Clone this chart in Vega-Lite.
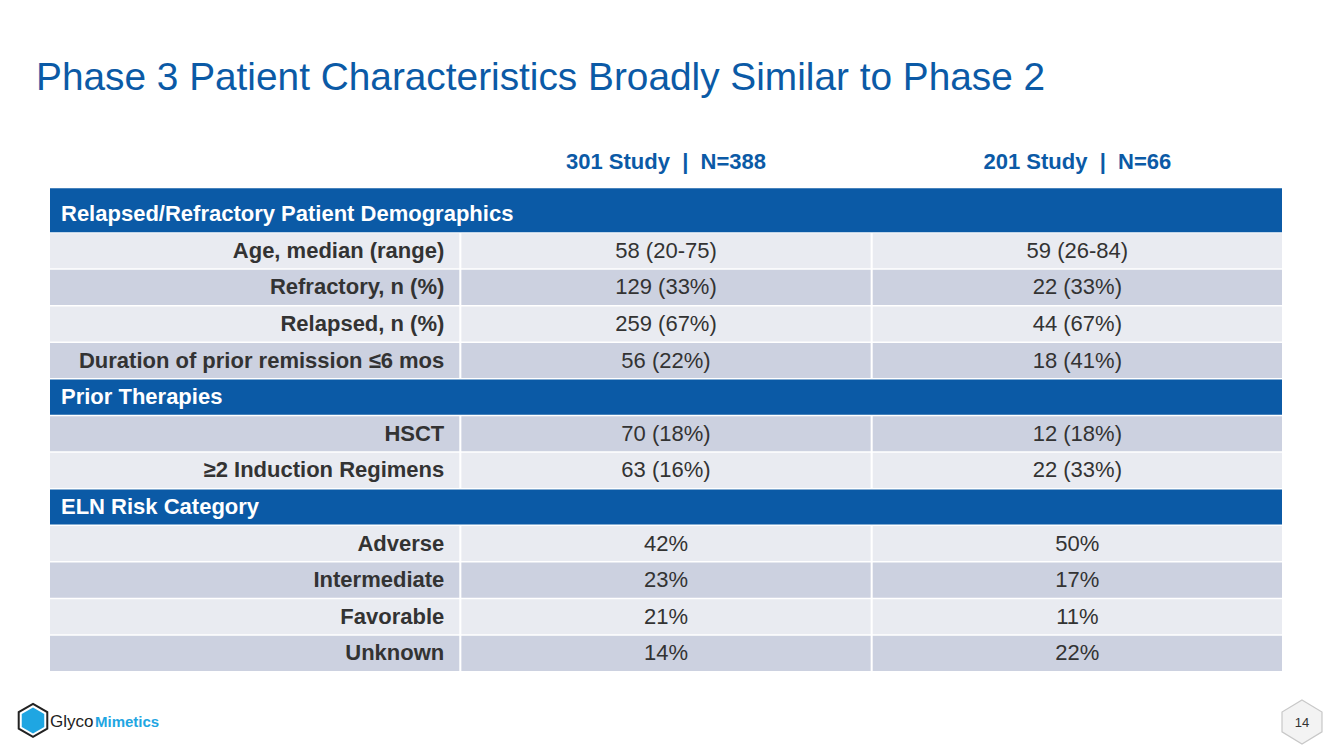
{
  "$schema": "https://vega.github.io/schema/vega-lite/v6.json",
  "width": 1232,
  "height": 547.5,
  "autosize": {"type": "none"},
  "padding": {"left": 50, "top": 160, "right": 51, "bottom": 41.5},
  "background": "white",
  "config": {"view": {"stroke": null}, "font": "Liberation Sans"},
  "title": {
    "text": "Phase 3 Patient Characteristics Broadly Similar to Phase 2",
    "anchor": "start",
    "frame": "group",
    "font": "Liberation Sans",
    "fontSize": 38.8,
    "fontWeight": "normal",
    "color": "#0B5AA6",
    "dx": -14,
    "offset": 53
  },
  "datasets": {
    "table": [
      {"row": 0, "kind": "colhdr", "label": "", "s301": "301 Study\u00a0\u00a0|\u00a0\u00a0N=388", "s201": "201 Study\u00a0\u00a0|\u00a0\u00a0N=66"},
      {"row": 1, "kind": "section", "label": "Relapsed/Refractory Patient Demographics"},
      {"row": 2, "kind": "item", "label": "Age, median (range)", "s301": "58 (20-75)", "s201": "59 (26-84)"},
      {"row": 3, "kind": "item", "label": "Refractory, n (%)", "s301": "129 (33%)", "s201": "22 (33%)"},
      {"row": 4, "kind": "item", "label": "Relapsed, n (%)", "s301": "259 (67%)", "s201": "44 (67%)"},
      {"row": 5, "kind": "item", "label": "Duration of prior remission ≤6 mos", "s301": "56 (22%)", "s201": "18 (41%)"},
      {"row": 6, "kind": "section", "label": "Prior Therapies"},
      {"row": 7, "kind": "item", "label": "HSCT", "s301": "70 (18%)", "s201": "12 (18%)"},
      {"row": 8, "kind": "item", "label": "≥2 Induction Regimens", "s301": "63 (16%)", "s201": "22 (33%)"},
      {"row": 9, "kind": "section", "label": "ELN Risk Category"},
      {"row": 10, "kind": "item", "label": "Adverse", "s301": "42%", "s201": "50%"},
      {"row": 11, "kind": "item", "label": "Intermediate", "s301": "23%", "s201": "17%"},
      {"row": 12, "kind": "item", "label": "Favorable", "s301": "21%", "s201": "11%"},
      {"row": 13, "kind": "item", "label": "Unknown", "s301": "14%", "s201": "22%"},
      {"row": 14, "kind": "footer", "label": "Glyco", "s301": "Mimetics", "s201": "14"}
    ]
  },
  "data": {"name": "table"},
  "encoding": {
    "y": {
      "field": "row",
      "type": "ordinal",
      "scale": {"domain": [0, 1, 2, 3, 4, 5, 6, 7, 8, 9, 10, 11, 12, 13, 14], "paddingInner": 0.04, "paddingOuter": 0},
      "axis": null
    }
  },
  "layer": [
    {
      "transform": [{"filter": "datum.kind === 'section' && datum.row !== 1"}],
      "mark": {"type": "rect", "color": "#0B5AA6"},
      "encoding": {}
    },
    {
      "transform": [{"filter": "datum.kind === 'section' && datum.row === 1"}],
      "mark": {"type": "rect", "color": "#0B5AA6", "height": 44, "yOffset": -4},
      "encoding": {}
    },
    {
      "transform": [
        {"filter": "datum.kind === 'item'"},
        {"fold": ["label", "s301", "s201"], "as": ["col", "val"]}
      ],
      "mark": {"type": "rect"},
      "encoding": {
        "x": {"field": "col", "type": "nominal", "scale": {"domain": ["label", "s301", "s201"], "paddingInner": 0.005, "paddingOuter": 0}, "axis": null},
        "color": {"condition": {"test": "datum.row % 2 === 0", "value": "#E9EBF1"}, "value": "#CCD1E0"}
      }
    },
    {
      "transform": [
        {"filter": "datum.kind === 'item'"},
        {"fold": ["label"], "as": ["col", "val"]}
      ],
      "mark": {"type": "text", "align": "right", "baseline": "middle", "dx": -15, "fontSize": 22, "fontWeight": "bold", "color": "#333333"},
      "encoding": {
        "x": {"field": "col", "type": "nominal", "bandPosition": 1},
        "text": {"field": "val"}
      }
    },
    {
      "transform": [
        {"filter": "datum.kind === 'item'"},
        {"fold": ["s301", "s201"], "as": ["col", "val"]}
      ],
      "mark": {"type": "text", "align": "center", "baseline": "middle", "fontSize": 22, "color": "#333333"},
      "encoding": {
        "x": {"field": "col", "type": "nominal"},
        "text": {"field": "val"}
      }
    },
    {
      "transform": [
        {"filter": "datum.kind === 'section'"},
        {"fold": ["label"], "as": ["col", "val"]}
      ],
      "mark": {"type": "text", "align": "left", "baseline": "middle", "dx": 11, "fontSize": 22, "fontWeight": "bold", "color": "white"},
      "encoding": {
        "x": {"field": "col", "type": "nominal", "bandPosition": 0},
        "text": {"field": "val"}
      }
    },
    {
      "transform": [
        {"filter": "datum.kind === 'colhdr'"},
        {"fold": ["s301", "s201"], "as": ["col", "val"]}
      ],
      "mark": {"type": "text", "align": "center", "baseline": "middle", "dy": -16, "fontSize": 22, "fontWeight": "bold", "color": "#0B5AA6"},
      "encoding": {
        "x": {"field": "col", "type": "nominal"},
        "text": {"field": "val"}
      }
    },
    {
      "transform": [
        {"filter": "datum.kind === 'footer'"},
        {"fold": ["label"], "as": ["col", "val"]}
      ],
      "mark": {"type": "point", "shape": "M0,-1L0.866,-0.5L0.866,0.5L0,1L-0.866,0.5L-0.866,-0.5Z", "size": 1089, "filled": true, "fill": "white", "stroke": "#222222", "strokeWidth": 2, "opacity": 1, "xOffset": -17, "yOffset": 30.5},
      "encoding": {
        "x": {"field": "col", "type": "nominal", "bandPosition": 0}
      }
    },
    {
      "transform": [
        {"filter": "datum.kind === 'footer'"},
        {"fold": ["label"], "as": ["col", "val"]}
      ],
      "mark": {"type": "point", "shape": "M0,-1L0.866,-0.5L0.866,0.5L0,1L-0.866,0.5L-0.866,-0.5Z", "size": 676, "filled": true, "fill": "#1FA6E2", "strokeWidth": 0, "opacity": 1, "xOffset": -17, "yOffset": 30.5},
      "encoding": {
        "x": {"field": "col", "type": "nominal", "bandPosition": 0}
      }
    },
    {
      "transform": [
        {"filter": "datum.kind === 'footer'"},
        {"fold": ["label"], "as": ["col", "val"]}
      ],
      "mark": {"type": "text", "align": "left", "baseline": "middle", "dx": 0, "dy": 32, "fontSize": 17, "color": "#222222"},
      "encoding": {
        "x": {"field": "col", "type": "nominal", "bandPosition": 0},
        "text": {"field": "val"}
      }
    },
    {
      "transform": [
        {"filter": "datum.kind === 'footer'"},
        {"fold": ["s301"], "as": ["col", "val"]}
      ],
      "mark": {"type": "text", "align": "left", "baseline": "middle", "dx": 45, "dy": 32, "fontSize": 15, "fontWeight": "bold", "color": "#1FA6E2"},
      "encoding": {
        "x": {"datum": "label", "type": "nominal", "bandPosition": 0},
        "text": {"field": "val"}
      }
    },
    {
      "transform": [
        {"filter": "datum.kind === 'footer'"},
        {"fold": ["s201"], "as": ["col", "val"]}
      ],
      "mark": {"type": "point", "shape": "M0,-1L0.909,-0.45L0.909,0.45L0,1L-0.909,0.45L-0.909,-0.45Z", "size": 1936, "filled": true, "fill": "#F3F3F3", "stroke": "#C8C8C8", "strokeWidth": 1.2, "opacity": 1, "xOffset": 20, "yOffset": 32},
      "encoding": {
        "x": {"field": "col", "type": "nominal", "bandPosition": 1}
      }
    },
    {
      "transform": [
        {"filter": "datum.kind === 'footer'"},
        {"fold": ["s201"], "as": ["col", "val"]}
      ],
      "mark": {"type": "text", "align": "center", "baseline": "middle", "dx": 20, "dy": 33, "fontSize": 13, "color": "#333333"},
      "encoding": {
        "x": {"field": "col", "type": "nominal", "bandPosition": 1},
        "text": {"field": "val"}
      }
    }
  ]
}
